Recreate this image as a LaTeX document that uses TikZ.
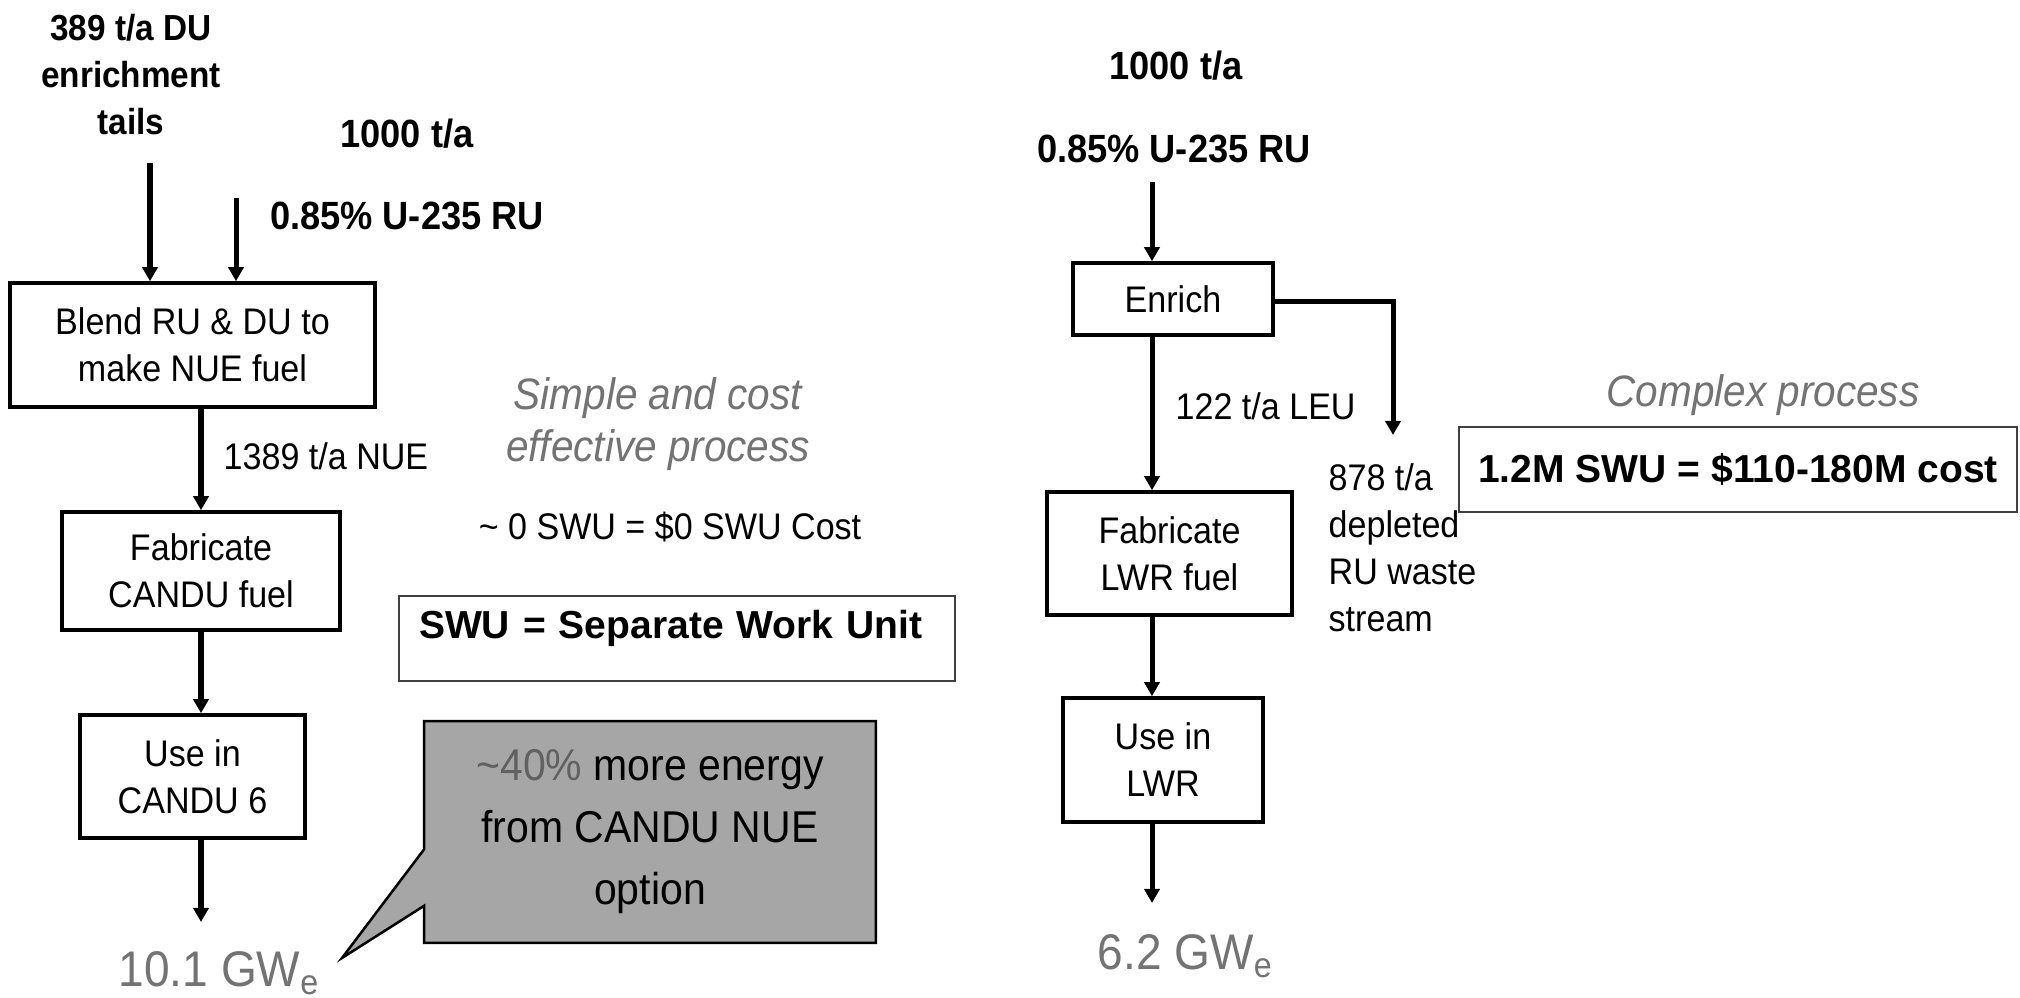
\documentclass[tikz,border=0pt]{standalone}
\usepackage{fontspec}
\setmainfont{Liberation Sans}
\newfontfamily\cnd[FakeStretch=0.92]{Liberation Sans}
\usetikzlibrary{arrows.meta,calc,backgrounds}
\begin{document}
\begin{tikzpicture}[x=0.01cm,y=-0.01cm,
  box/.style={draw, line width=0.035cm, align=center, inner sep=0, font=\cnd\fontsize{10.53pt}{13.37pt}\selectfont},
  lbl/.style={inner sep=0, font=\cnd\fontsize{10.53pt}{13.37pt}\selectfont},
  big/.style={inner sep=0, font=\cnd\bfseries\fontsize{11.2pt}{13.66pt}\selectfont},
  arr/.style={line width=0.05cm, -{Triangle[width=0.15cm,length=0.14cm]}},
  note/.style={draw=black!75, line width=0.02cm, inner sep=0, font=\bfseries\fontsize{11.1pt}{13pt}\selectfont},
  gw/.style={inner sep=0, text=black!55, font=\cnd\fontsize{14.23pt}{17pt}\selectfont},
  ital/.style={inner sep=0, text=black!55, align=center, font=\cnd\itshape\fontsize{12.52pt}{14.8pt}\selectfont},
]
\useasboundingbox (0,0) rectangle (2020,998);

% ---------- left flow ----------
\coordinate (colL) at (201,0);
\node[lbl, align=center, anchor=north, font=\cnd\bfseries\fontsize{10.3pt}{13.37pt}\selectfont] (du) at (131,14) {389 t/a DU\\enrichment\\tails};
\node[big, anchor=base] (kt1) at (407,148) {1000 t/a};
\node[big, anchor=base] (ru1) at (407,230) {0.85\% U-235 RU};
\coordinate (duS) at (150,163);
\coordinate (ruS) at (236,198);

\node[box, minimum width=3.65cm, minimum height=1.24cm] (blend) at (192.5,345) {Blend RU \& DU to\\make NUE fuel};
\node[box, minimum width=2.78cm, minimum height=1.18cm] (fabC) at (201,571) {Fabricate\\CANDU fuel};
\node[box, minimum width=2.25cm, minimum height=1.23cm] (useC) at (192.5,776.5) {Use in\\CANDU 6};
\node[gw, anchor=base west] (gwC) at (118,987) {10.1 GW\textsubscript{e}};
\coordinate (endC) at (201,922);

\draw[arr] (duS) -- (duS |- blend.north);
\draw[arr] (ruS) -- (ruS |- blend.north);
\draw[arr] (blend.south -| colL) -- (fabC.north);
\node[lbl, anchor=base west] (nue) at (223,470) {1389 t/a NUE};
\draw[arr] (fabC.south) -- (useC.north -| fabC.south);
\draw[arr] (useC.south -| colL) -- (endC);

% ---------- middle notes ----------
\node[ital, anchor=north] (simple) at (658,377) {Simple and cost\\effective process};
\node[lbl, anchor=base] (zero) at (670,540) {\textasciitilde{} 0 SWU = \$0 SWU Cost};
\node[note, minimum width=5.56cm, minimum height=0.85cm, text width=5.16cm, inner xsep=0.2cm, align=left, text depth=0.28cm, anchor=north west] (swu) at (398,595) {SWU = Separate Work Unit};

% callout
\coordinate (tip) at (342,958);
\node[inner sep=0, minimum width=4.5cm, minimum height=2.2cm, align=center,
      font=\cnd\fontsize{12.66pt}{17.64pt}\selectfont] (call) at (650,832)
      {\textcolor{black!62}{\textasciitilde40\%} more energy\\from CANDU NUE\\option};
\begin{scope}[on background layer]
\fill[white] (0,0) rectangle (2020,998);
\draw[fill=black!35, line width=0.025cm, line join=miter]
  (call.north west) -- (call.north east) -- (call.south east) -- (call.south west)
  -- ($(call.south west)+(0,-37)$) -- (tip) -- ($(call.north west)+(0,128)$) -- cycle;
\end{scope}

% ---------- right flow ----------
\coordinate (colR) at (1152,0);
\node[big, anchor=base] (kt2) at (1176,80) {1000 t/a};
\node[big, anchor=base] (ru2) at (1174,163) {0.85\% U-235 RU};
\coordinate (inR) at (1152,182);
\node[box, minimum width=2cm, minimum height=0.72cm] (enr) at (1173,299) {Enrich};
\node[box, minimum width=2.45cm, minimum height=1.23cm] (fabL) at (1169.5,553.5) {Fabricate\\LWR fuel};
\node[box, minimum width=2cm, minimum height=1.24cm] (useL) at (1163,760) {Use in\\LWR};
\coordinate (endL) at (1152,903);
\node[gw, anchor=base west] (gwL) at (1097,970) {6.2 GW\textsubscript{e}};

\draw[arr] (inR) -- (enr.north -| colR);
\draw[arr] (enr.south -| colR) -- (fabL.north -| colR);
\draw[arr] (fabL.south -| colR) -- (useL.north -| colR);
\draw[arr] (useL.south -| colR) -- (endL);
\node[lbl, anchor=base west] (leu) at (1175,420) {122 t/a LEU};

\coordinate (wasteEnd) at (1393,435);
\draw[arr, line join=miter] ($(enr.east)+(0,3)$) -- ($(enr.east -| wasteEnd)+(0,3)$) -- (wasteEnd);
\node[lbl, align=left, anchor=north west] (waste) at (1328,463) {878 t/a\\depleted\\RU waste\\stream};

\node[ital, anchor=base] (cplx) at (1763,407) {Complex process};
\node[note, minimum width=5.58cm, minimum height=0.85cm] (swu2) at (1738,469.5) {1.2M SWU = \$110-180M cost};
\end{tikzpicture}
\end{document}
